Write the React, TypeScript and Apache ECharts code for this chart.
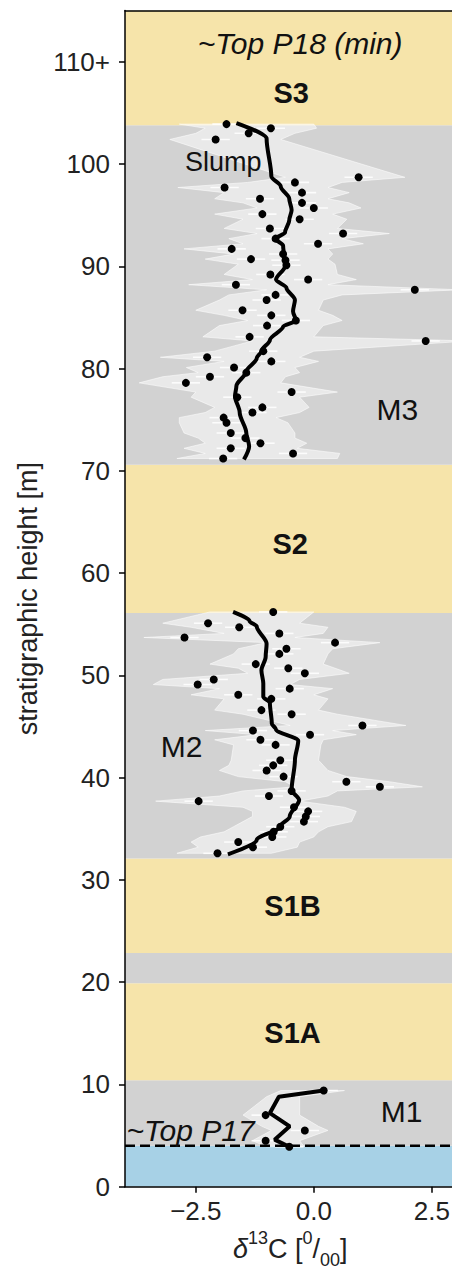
import React, { useEffect, useRef } from 'react';
import * as echarts from 'echarts';

const FONT = '"Liberation Sans", Arial, Helvetica, sans-serif';

// ---- lithological bands (stratigraphic height, m)
const bandFrom = [0, 4.0, 10.4, 19.9, 22.85, 32.1, 56.1, 70.6, 103.8];
const bandTo = [4.0, 10.4, 19.9, 22.85, 32.1, 56.1, 70.6, 103.8, 115];
const bandKind = ['water', 'marl', 'sand', 'marl', 'sand', 'marl', 'sand', 'marl', 'sand'];
const bandColors: Record<string, string> = { water: '#a7d1e6', marl: '#d2d2d2', sand: '#f6e4aa' };

// ---- P17 marker
const p17Height = 4.0;

// ---- M3 samples
const m3Height = [103.9, 103.5, 103.0, 102.4, 98.7, 98.2, 97.7, 97.2, 96.6, 96.2, 95.7, 95.1, 94.6, 93.7, 93.2, 92.7, 92.2, 91.7, 91.2, 90.7, 90.6, 90.1, 89.2, 88.7, 88.2, 87.7, 87.2, 86.7, 85.7, 85.2, 84.7, 84.2, 83.1, 82.7, 81.7, 81.1, 80.7, 80.1, 79.6, 79.2, 78.6, 77.7, 77.2, 76.2, 75.7, 75.2, 74.7, 73.7, 73.2, 72.7, 72.2, 71.7, 71.2];
const m3Value = [-1.85, -0.91, -1.38, -2.08, 0.95, -0.40, -1.89, -0.25, -1.14, -0.25, 0.00, -1.09, -0.30, -0.93, 0.62, -0.81, 0.09, -1.74, -0.65, -1.33, -0.60, -0.58, -0.92, -0.12, -1.65, 2.14, -0.81, -1.00, -1.51, -0.90, -0.38, -0.99, -1.36, 2.37, -1.07, -2.26, -0.90, -1.69, -1.43, -2.20, -2.71, -0.47, -1.62, -1.09, -1.30, -1.91, -1.85, -1.76, -1.45, -1.13, -1.76, -0.44, -1.92];
// M3 uncertainty envelope
const m3EnvHeight = [103.9, 103.5, 103.0, 102.4, 98.7, 98.2, 97.7, 97.2, 96.6, 96.2, 95.7, 95.1, 94.6, 93.7, 93.2, 92.7, 92.2, 91.7, 91.2, 90.7, 90.2, 89.2, 88.7, 88.2, 87.7, 87.2, 86.7, 85.7, 85.2, 84.7, 84.2, 83.1, 82.7, 81.7, 81.1, 80.7, 80.1, 79.6, 79.2, 78.6, 77.7, 77.2, 76.2, 75.7, 75.2, 74.7, 73.7, 73.2, 72.7, 72.2, 71.7, 71.2];
const m3EnvLeft = [-2.85, -2.3, -2.5, -3.05, -0.6, -1.4, -2.88, -1.9, -2.1, -1.5, -1.2, -2.1, -1.5, -1.9, -1.2, -1.8, -1.5, -2.75, -1.7, -2.3, -1.6, -1.9, -1.3, -2.65, -1.0, -1.8, -2.0, -2.5, -1.9, -1.4, -2.0, -2.35, -1.3, -2.1, -3.25, -1.9, -2.7, -2.45, -3.2, -3.7, -2.5, -2.6, -2.1, -2.3, -2.85, -2.85, -2.75, -2.45, -2.3, -2.75, -2.3, -2.9];
const m3EnvRight = [0.0, 0.06, -0.4, -0.7, 1.93, 0.6, 0.3, 0.75, 0.3, 0.75, 1.0, 0.4, 0.7, 0.5, 1.6, 0.6, 1.05, 0.3, 0.4, 0.3, 0.45, 0.5, 0.9, 0.3, 3.1, 0.6, 0.2, 0.1, 0.4, 0.6, 0.2, 0.0, 3.3, 0.0, -0.3, 0.1, -0.4, -0.3, -0.6, -0.7, 0.5, -0.3, -0.1, -0.3, -0.8, -0.55, -0.4, -0.4, -0.15, -0.35, 0.55, 0.5];
// M3 smoothed trend
const m3TrendHeight = [104.0, 102.5, 98.8, 97.8, 96.6, 95.5, 94.5, 93.3, 92.7, 92.0, 91.0, 90.0, 88.7, 87.9, 86.7, 85.6, 84.7, 84.1, 82.8, 81.7, 81.0, 79.7, 78.3, 77.3, 75.7, 73.7, 72.4, 71.1];
const m3TrendValue = [-1.64, -1.00, -0.90, -0.70, -0.52, -0.47, -0.52, -0.61, -0.81, -0.65, -0.63, -0.61, -0.80, -0.58, -0.40, -0.44, -0.38, -0.65, -0.93, -1.11, -1.21, -1.43, -1.64, -1.67, -1.57, -1.43, -1.37, -1.48];

// ---- M2 samples
const m2Height = [56.2, 55.1, 54.7, 54.1, 53.7, 53.2, 52.6, 52.1, 51.1, 50.7, 50.2, 49.6, 49.1, 48.7, 48.1, 47.7, 46.6, 46.2, 45.1, 44.6, 44.2, 43.7, 43.2, 41.7, 41.2, 40.7, 40.1, 39.6, 39.1, 38.7, 38.2, 37.7, 37.1, 36.7, 36.2, 35.7, 35.2, 34.7, 34.2, 33.7, 33.2, 32.6];
const m2Value = [-0.86, -2.24, -1.58, -0.73, -2.74, 0.45, -0.58, -0.73, -1.23, -0.54, -0.19, -2.12, -2.46, -0.51, -1.60, -0.90, -1.11, -0.47, 1.03, -1.29, -0.08, -1.13, -0.81, -0.71, -0.86, -1.00, -0.64, 0.69, 1.40, -0.47, -0.95, -2.44, -0.42, -0.12, -0.17, -0.21, -0.71, -0.85, -0.88, -1.60, -1.29, -2.04];
const m2EnvHeight = m2Height;
const m2EnvLeft = [-2.2, -3.2, -2.6, -1.9, -3.6, -1.0, -1.6, -1.7, -2.2, -1.6, -1.4, -3.2, -3.4, -2.0, -2.6, -1.9, -2.1, -1.5, -0.5, -2.3, -1.2, -2.1, -1.7, -1.75, -1.8, -2.0, -1.6, -0.6, -0.4, -1.5, -2.0, -3.35, -1.5, -1.3, -1.3, -1.5, -1.7, -1.9, -2.4, -2.6, -2.45, -2.9];
const m2EnvRight = [0.0, -0.3, 0.3, 0.2, -0.4, 1.4, 0.4, 0.3, 0.2, 0.45, 0.75, -0.3, -0.5, 0.4, 0.0, 0.3, 0.1, 0.5, 1.95, 0.4, 0.9, 0.2, 0.15, 0.1, 0.2, 0.3, 0.7, 1.6, 2.3, 0.5, 0.3, -0.3, 0.65, 0.9, 0.85, 0.8, 0.3, 0.1, 0.0, -0.3, -0.35, -0.9];
const m2TrendHeight = [56.2, 55.3, 54.8, 53.1, 51.8, 50.5, 49.2, 47.9, 47.3, 45.3, 44.7, 43.6, 41.7, 38.8, 37.8, 36.2, 35.2, 33.9, 32.5];
const m2TrendValue = [-1.71, -1.36, -1.21, -1.00, -1.02, -1.11, -1.07, -1.07, -0.93, -0.89, -0.80, -0.33, -0.40, -0.47, -0.31, -0.51, -0.72, -1.21, -1.82];

// ---- M1 samples
const m1Height = [9.4, 7.0, 5.5, 4.5, 3.9];
const m1Value = [0.21, -1.02, -0.19, -1.02, -0.52];
const m1EnvHeight = [9.4, 8.8, 7.0, 5.9, 5.5, 4.5, 3.9];
const m1EnvLeft = [-0.7, -1.0, -1.5, -1.1, -0.9, -1.3, -1.0];
const m1EnvRight = [0.65, -0.3, -0.3, 0.1, 0.3, -0.3, -0.2];
const m1TrendHeight = [9.4, 8.8, 7.2, 5.9, 4.6, 3.9];
const m1TrendValue = [0.21, -0.74, -0.93, -0.51, -0.83, -0.52];

// analytical uncertainty shown as white bars (per mil, half width)
const errHalf = 0.3;

// axis ticks
const xTicks = [-2.5, 0, 2.5];
const yTicks = [0, 10, 20, 30, 40, 50, 60, 70, 80, 90, 100, 110];

// annotations
const annotations = [
  { text: '~Top P18 (min)', x: -0.29, y: 111.8, size: 30, weight: 'normal', style: 'italic', align: 'center' },
  { text: 'S3', x: -0.48, y: 106.9, size: 29, weight: 'bold', style: 'normal', align: 'center' },
  { text: 'Slump', x: -1.92, y: 100.2, size: 27, weight: 'normal', style: 'normal', align: 'center' },
  { text: 'M3', x: 1.77, y: 76.0, size: 30, weight: 'normal', style: 'normal', align: 'center' },
  { text: 'S2', x: -0.5, y: 62.8, size: 29, weight: 'bold', style: 'normal', align: 'center' },
  { text: 'M2', x: -2.8, y: 43.0, size: 30, weight: 'normal', style: 'normal', align: 'center' },
  { text: 'S1B', x: -0.45, y: 27.4, size: 29, weight: 'bold', style: 'normal', align: 'center' },
  { text: 'S1A', x: -0.45, y: 15.0, size: 29, weight: 'bold', style: 'normal', align: 'center' },
  { text: 'M1', x: 1.86, y: 7.33, size: 30, weight: 'normal', style: 'normal', align: 'center' },
  { text: '~Top P17', x: -3.97, y: 5.5, size: 30, weight: 'normal', style: 'italic', align: 'left' },
];

const pairs = (h: number[], v: number[]) => h.map((y, i) => [v[i], y]);
const envelope = (h: number[], l: number[], r: number[]) => {
  const left = h.map((y, i) => [l[i], y]);
  const right = h.map((y, i) => [r[i], y]).reverse();
  return left.concat(right);
};

export default function App() {
  const ref = useRef<HTMLDivElement>(null);
  useEffect(() => {
    if (!ref.current) return;
    const chart = echarts.init(ref.current, undefined, { renderer: 'svg' });

    const bandData = bandFrom.map((f, i) => [0, f, bandTo[i], i]);
    const bandSeries = {
      type: 'custom', clip: true, silent: true, z: 1, data: bandData, encode: { x: 0, y: 1 },
      renderItem: (params: any, api: any) => {
        const idx = api.value(3);
        const top = api.coord([0, api.value(2)])[1];
        const bottom = api.coord([0, api.value(1)])[1];
        const cs = params.coordSys;
        return { type: 'rect', shape: { x: cs.x, y: top, width: cs.width, height: bottom - top }, style: { fill: bandColors[bandKind[idx]] } };
      },
    };

    const envSeries = (verts: number[][]) => ({
      type: 'custom', clip: true, silent: true, z: 2, data: verts,
      renderItem: (params: any, api: any) => {
        if (params.dataIndex !== 0) return null;
        const pts = verts.map((v) => api.coord(v));
        return { type: 'polygon', shape: { points: pts }, style: { fill: 'rgba(255,255,255,0.5)', stroke: 'rgba(255,255,255,0.55)', lineWidth: 1 } };
      },
    });

    const errSeries = (data: number[][]) => ({
      type: 'custom', clip: true, silent: true, z: 3, data,
      renderItem: (params: any, api: any) => {
        const x = api.value(0);
        const y = api.value(1);
        const a = api.coord([x - errHalf, y]);
        const b = api.coord([x + errHalf, y]);
        return { type: 'line', shape: { x1: a[0], y1: a[1], x2: b[0], y2: b[1] }, style: { stroke: 'rgba(255,255,255,0.85)', lineWidth: 1.6 } };
      },
    });

    const trendSeries = (data: number[][], smooth: number | boolean) => ({
      type: 'line', data, z: 4, smooth, smoothMonotone: 'y', showSymbol: false, symbol: 'none',
      lineStyle: { color: '#000', width: 4 },
    });

    const dotSeries = (data: number[][]) => ({
      type: 'scatter', data, z: 5, symbolSize: 8, itemStyle: { color: '#000', opacity: 1 },
    });

    const m3 = pairs(m3Height, m3Value);
    const m2 = pairs(m2Height, m2Value);
    const m1 = pairs(m1Height, m1Value);

    const labelSeries = {
      type: 'custom', clip: false, silent: true, z: 8,
      data: annotations.map((a, i) => [a.x, a.y, i]),
      renderItem: (params: any, api: any) => {
        const a = annotations[api.value(2)];
        const p = api.coord([a.x, a.y]);
        return {
          type: 'text', x: p[0], y: p[1],
          style: { text: a.text, fontSize: a.size, fontWeight: a.weight, fontStyle: a.style, fontFamily: FONT, fill: '#111', align: a.align, verticalAlign: 'middle' },
        };
      },
    };

    const axisLine = { show: true, onZero: false, lineStyle: { color: '#000', width: 1.5 } };

    chart.setOption({
      animation: false,
      backgroundColor: '#fff',
      grid: { left: 125, top: 10.6, width: 330.4, height: 1176.1, containLabel: false, outerBoundsMode: 'none' },
      xAxis: [
        {
          type: 'value', min: -4, max: 3, position: 'bottom', z: 10, axisLine,
          axisTick: { show: true, customValues: xTicks, length: 6, lineStyle: { color: '#000', width: 1.5 } },
          axisLabel: {
            customValues: xTicks,
            formatter: (v: number) => (v < 0 ? '\u2212' : '') + Math.abs(v).toFixed(1),
            fontSize: 26, fontFamily: FONT, color: '#222', margin: 11,
          },
          splitLine: { show: false },
          name: '{d|δ}{sup|13}{n|C [}{sup|0}{n|/}{sub|00}{n|]}',
          nameLocation: 'middle',
          nameGap: 40,
          nameTextStyle: {
            fontFamily: FONT, color: '#222', fontSize: 27,
            rich: {
              d: { fontSize: 27, fontStyle: 'italic', fontFamily: FONT, color: '#222', lineHeight: 40, verticalAlign: 'middle' },
              n: { fontSize: 27, fontFamily: FONT, color: '#222', lineHeight: 40, verticalAlign: 'middle' },
              sup: { fontSize: 18, fontFamily: FONT, color: '#222', lineHeight: 20, verticalAlign: 'top' },
              sub: { fontSize: 18, fontFamily: FONT, color: '#222', lineHeight: 18, verticalAlign: 'bottom' },
            },
          },
        },
        {
          type: 'value', min: -4, max: 3, position: 'top', z: 10, axisLine,
          axisTick: { show: false }, axisLabel: { show: false }, splitLine: { show: false },
        },
      ],
      yAxis: {
        type: 'value', min: 0, max: 115, z: 10, axisLine,
        axisTick: { show: true, customValues: yTicks, length: 6, lineStyle: { color: '#000', width: 1.5 } },
        axisLabel: {
          customValues: yTicks,
          formatter: (v: number) => (v === 110 ? '110+' : String(v)),
          fontSize: 26, fontFamily: FONT, color: '#222', margin: 15,
        },
        splitLine: { show: false },
        name: 'stratigraphic height [m]',
        nameLocation: 'middle',
        nameGap: 84,
        nameTextStyle: { fontSize: 27, fontFamily: FONT, color: '#222' },
      },
      series: [
        bandSeries,
        envSeries(envelope(m3EnvHeight, m3EnvLeft, m3EnvRight)),
        envSeries(envelope(m2EnvHeight, m2EnvLeft, m2EnvRight)),
        envSeries(envelope(m1EnvHeight, m1EnvLeft, m1EnvRight)),
        errSeries(m3),
        errSeries(m2),
        errSeries(m1),
        {
          type: 'line', data: [[-4, p17Height], [3, p17Height]], z: 6, symbol: 'none',
          lineStyle: { color: '#000', width: 2.5, type: [10, 5] },
        },
        trendSeries(pairs(m3TrendHeight, m3TrendValue), 0.3),
        trendSeries(pairs(m2TrendHeight, m2TrendValue), 0.3),
        trendSeries(pairs(m1TrendHeight, m1TrendValue), false),
        dotSeries(m3),
        dotSeries(m2),
        dotSeries(m1),
        labelSeries,
      ],
    });
    return () => chart.dispose();
  }, []);

  return (
    <div style={{ position: 'absolute', left: 0, top: 0, width: 452, height: 1269, overflow: 'hidden', background: '#fff' }}>
      <div ref={ref} style={{ width: 470, height: 1269 }} />
    </div>
  );
}
